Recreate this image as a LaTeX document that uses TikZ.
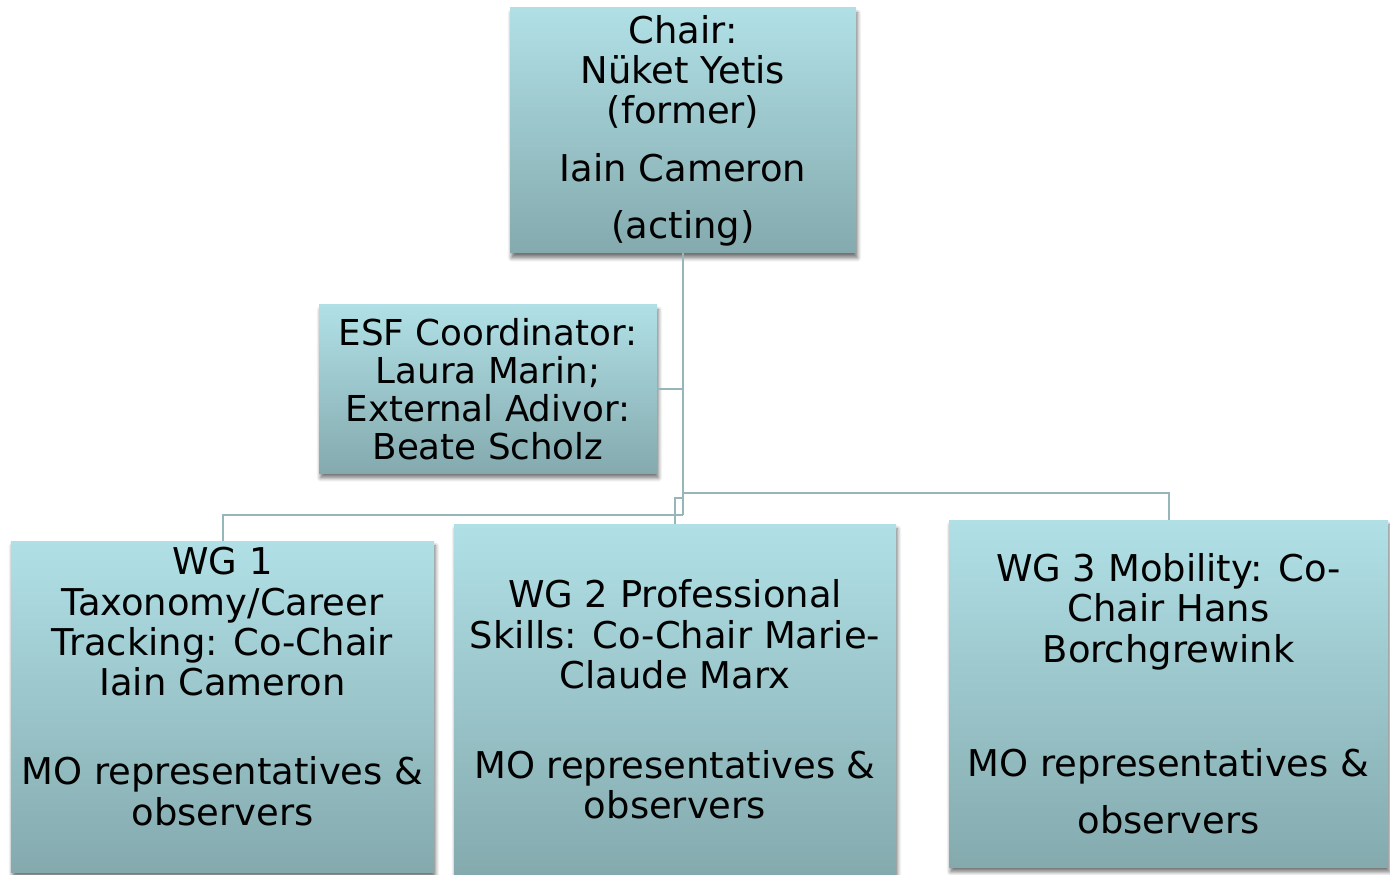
\documentclass[tikz,border=0pt]{standalone}
\usepackage{fontspec}
\setmainfont{DejaVu Sans}
\usetikzlibrary{shadows.blur}
\definecolor{boxtop}{RGB}{176,224,230}
\definecolor{boxbot}{RGB}{132,170,174}
\definecolor{linkcol}{RGB}{150,182,186}
\tikzset{
  unit/.style={rectangle, inner sep=0pt, align=center, top color=boxtop, bottom color=boxbot,
    blur shadow={shadow xshift=0.8pt, shadow yshift=-2.8pt, shadow blur steps=6, shadow opacity=55},
    font=\fontsize{21}{23}\selectfont},
  link/.style={draw=linkcol, line width=0.04cm}
}
\begin{document}
\begin{tikzpicture}
  \useasboundingbox (0,0) rectangle (27.8,-17.5);
  % boxes
  \node[unit, minimum width=6.92cm, minimum height=4.9cm] (chair) at (13.66,-2.61)
    {Chair:\\Nüket Yetis\\(former)\\[9.7pt]Iain Cameron\\[9.4pt](acting)};
  \node[unit, minimum width=6.76cm, minimum height=3.36cm, font=\fontsize{20.3}{21.6}\selectfont] (esf) at (9.76,-7.78)
    {ESF Coordinator:\\Laura Marin;\\External Adivor:\\Beate Scholz};
  \node[unit, minimum width=8.46cm, minimum height=6.62cm] (wg1) at (4.45,-14.13)
    {WG 1\\Taxonomy/Career\\Tracking: Co-Chair\\Iain Cameron\\[27.6pt]MO representatives \&\\observers\\ \mbox{}};
  \node[unit, minimum width=8.84cm, minimum height=7.02cm] (wg2) at (13.5,-13.99)
    {WG 2 Professional\\Skills: Co-Chair Marie-\\Claude Marx\\[28pt]MO representatives \&\\observers};
  \node[unit, minimum width=8.78cm, minimum height=6.94cm] (wg3) at (23.37,-13.87)
    {WG 3 Mobility: Co-\\Chair Hans\\Borchgrewink\\[42pt]MO representatives \&\\[9.4pt]observers};
  % links
  \coordinate (j1) at (13.66,-10.3);
  \coordinate (j2) at (13.66,-9.96);
  \coordinate (j3) at (13.66,-9.86);
  \draw[link] (chair.south) -- (j1);
  \draw[link] (esf.east) -- (esf.east -| chair.south);
  \draw[link] (j1) -| (wg1.north);
  \draw[link] (j2) -| (wg2.north);
  \draw[link] (j3) -| (wg3.north);
\end{tikzpicture}
\end{document}
